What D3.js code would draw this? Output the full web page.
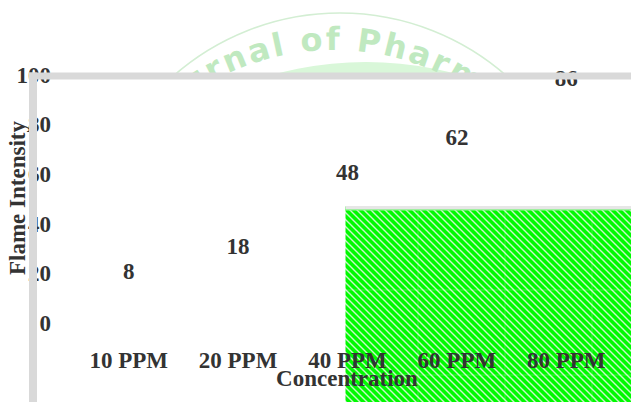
<!DOCTYPE html>
<html>
<head>
<meta charset="utf-8">
<script src="https://cdn.jsdelivr.net/npm/d3@7/dist/d3.min.js"></script>
<style>
  html, body { margin: 0; padding: 0; background: #fff; }
  svg { display: block; }
</style>
</head>
<body>
<svg id="chart" width="631" height="402"></svg>
<script>
// ---- data ----
const categories = ["10 PPM", "20 PPM", "40 PPM", "60 PPM", "80 PPM"];
const values = [8, 18, 48, 62, 86];
const yTicks = [0, 20, 40, 60, 80, 100];
const xTitle = "Concentration";
const yTitle = "Flame Intensity";
const watermarkText = "Journal of Pharm";

// ---- layout ----
const W = 631, H = 402;
const svg = d3.select("#chart");
const font = "'Liberation Serif', 'Times New Roman', serif";
const textColor = "#333333";

const x = d3.scaleBand().domain(categories).range([74, 621]);
const y = d3.scaleLinear().domain([0, 100]).range([323, 75]);

const defs = svg.append("defs");

// watermark (faint logo behind chart, visible only above plot)
defs.append("clipPath").attr("id", "wmclip")
  .append("rect").attr("x", 0).attr("y", 0).attr("width", W).attr("height", 76);

const wm = svg.append("g").attr("clip-path", "url(#wmclip)");
// inner filled disc
wm.append("circle").attr("cx", 366).attr("cy", 412).attr("r", 350)
  .attr("fill", "#d9f7d9");
// outer thin ring
wm.append("circle").attr("cx", 340).attr("cy", 265).attr("r", 252)
  .attr("fill", "none").attr("stroke", "#d3eed3").attr("stroke-width", 1.6);
// text on arc
const tcx = 334, tcy = 300, tr = 250;
defs.append("path").attr("id", "wmarc")
  .attr("d", `M${tcx - tr},${tcy} A${tr},${tr} 0 0 1 ${tcx + tr},${tcy}`);
wm.append("text")
  .attr("font-family", "'DejaVu Sans', Verdana, sans-serif")
  .attr("font-weight", "bold")
  .attr("font-size", 32)
  .attr("letter-spacing", 2.6)
  .attr("fill", "#c0e9c0")
  .append("textPath")
  .attr("href", "#wmarc")
  .attr("startOffset", 200)
  .text(watermarkText);

// hatched green panel
const pat = defs.append("pattern").attr("id", "hatch")
  .attr("patternUnits", "userSpaceOnUse").attr("width", 7).attr("height", 7);
pat.append("rect").attr("width", 7).attr("height", 7).attr("fill", "#00fa00");
pat.append("path").attr("d", "M-1,-1 L8,8 M-1,6 L1,8 M6,-1 L8,1")
  .attr("stroke", "#c9f5c9").attr("stroke-width", 1.4);

const panelX = x("40 PPM") + x.bandwidth() / 2 - 2;
const panelY = 206;
svg.append("rect")
  .attr("x", panelX).attr("y", panelY)
  .attr("width", W - panelX).attr("height", H - panelY)
  .attr("fill", "url(#hatch)");
// tile seams
const seams = svg.append("g").attr("stroke", "rgba(255,255,255,0.22)").attr("stroke-width", 1);
[418, 505, 592].forEach(sx => seams.append("line")
  .attr("x1", sx).attr("x2", sx).attr("y1", panelY).attr("y2", H));
[290, 375].forEach(sy => seams.append("line")
  .attr("x1", panelX).attr("x2", W).attr("y1", sy).attr("y2", sy));
// top edge of panel
svg.append("rect").attr("x", panelX).attr("y", panelY)
  .attr("width", W - panelX).attr("height", 3).attr("fill", "#e6e6e6");
svg.append("rect").attr("x", panelX).attr("y", panelY + 3)
  .attr("width", W - panelX).attr("height", 1.5).attr("fill", "#9ff09f");

// y axis tick labels
const yAxis = svg.append("g")
  .attr("transform", "translate(51,0)")
  .call(d3.axisLeft(y).tickValues(yTicks).tickSize(0).tickPadding(0));
yAxis.select(".domain").remove();
yAxis.selectAll("text")
  .attr("font-family", font).attr("font-weight", "bold")
  .attr("font-size", 23).attr("fill", textColor);

// x axis tick labels
const xAxis = svg.append("g")
  .attr("transform", "translate(0,352)")
  .call(d3.axisBottom(x).tickSize(0).tickPadding(0));
xAxis.select(".domain").remove();
xAxis.selectAll("text")
  .attr("font-family", font).attr("font-weight", "bold")
  .attr("font-size", 23).attr("fill", textColor);

// value labels
svg.append("g").selectAll("text")
  .data(values)
  .join("text")
  .attr("x", (d, i) => x(categories[i]) + x.bandwidth() / 2)
  .attr("y", d => y(d) - 32)
  .attr("dy", "0.35em")
  .attr("text-anchor", "middle")
  .attr("font-family", font).attr("font-weight", "bold")
  .attr("font-size", 23).attr("fill", textColor)
  .text(d => d);

// axis titles
svg.append("text")
  .attr("x", 347).attr("y", 386)
  .attr("text-anchor", "middle")
  .attr("font-family", font).attr("font-weight", "bold")
  .attr("font-size", 23).attr("fill", textColor)
  .text(xTitle);

svg.append("text")
  .attr("transform", "translate(25,198) rotate(-90)")
  .attr("text-anchor", "middle")
  .attr("font-family", font).attr("font-weight", "bold")
  .attr("font-size", 23).attr("fill", textColor)
  .text(yTitle);

// thick gray frame lines (drawn on top)
svg.append("rect")
  .attr("x", 29).attr("y", y(100) - 2.5)
  .attr("width", W - 29).attr("height", 7)
  .attr("fill", "#d9d9d9");
svg.append("rect")
  .attr("x", 29).attr("y", y(100) - 2.5)
  .attr("width", 8).attr("height", H - y(100) + 2.5)
  .attr("fill", "#d9d9d9");
</script>
</body>
</html>
